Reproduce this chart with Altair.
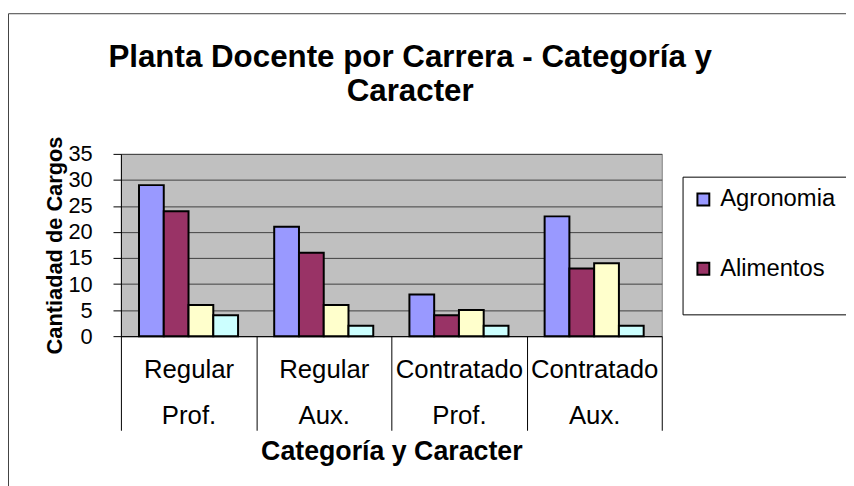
import altair as alt
import pandas as pd

grupos = ["Regular|Prof.", "Regular|Aux.", "Contratado|Prof.", "Contratado|Aux."]
series = ["Agronomia", "Alimentos", "Serie 3", "Serie 4"]
agronomia = [29, 21, 8, 23]
alimentos = [24, 16, 4, 13]
serie3 = [6, 6, 5, 14]
serie4 = [4, 2, 2, 2]
colores = ["#9999FF", "#993366", "#FFFFCC", "#CCFFFF"]
y_ticks = [0, 5, 10, 15, 20, 25, 30, 35]

rows = []
for s, vals in zip(series, [agronomia, alimentos, serie3, serie4]):
    for g, v in zip(grupos, vals):
        rows.append({"grupo": g, "serie": s, "valor": v})
df = pd.DataFrame(rows)

FONT = "Liberation Sans"
W, H = 546, 184

bars = alt.Chart(df).mark_bar(stroke="black", strokeWidth=2).encode(
    x=alt.X(
        "grupo:N",
        sort=grupos,
        scale=alt.Scale(paddingInner=0, paddingOuter=0),
        axis=alt.Axis(
            title="Categoría y Caracter",
            titleFont=FONT,
            titleFontSize=27,
            titleFontWeight="bold",
            titleColor="black",
            titleBaseline="top",
            titleY=104,
            labelExpr="split(datum.label, '|')",
            labelFont=FONT,
            labelFontSize=26,
            labelColor="black",
            labelLineHeight=46,
            labelAngle=0,
            labelPadding=-74,
            labelBaseline="top",
            tickBand="extent",
            tickSize=95,
            tickColor="black",
            tickWidth=1,
            domainColor="black",
            domainWidth=1,
        ),
    ),
    xOffset=alt.XOffset(
        "serie:N",
        sort=series,
        scale=alt.Scale(paddingInner=0, paddingOuter=0.73),
    ),
    y=alt.Y(
        "valor:Q",
        scale=alt.Scale(domain=[0, 35], nice=False),
        axis=alt.Axis(
            values=y_ticks,
            title="Cantiadad de Cargos",
            titleFont=FONT,
            titleFontSize=22,
            titleFontWeight="bold",
            titleColor="black",
            titleAngle=-90,
            titleBaseline="alphabetic",
            titleAlign="center",
            titleX=-60,
            titleY=92,
            labelFont=FONT,
            labelFontSize=22,
            labelColor="black",
            labelPadding=21,
            tickSize=8,
            tickColor="black",
            domainColor="black",
            grid=True,
            gridColor="#404040",
            gridWidth=1,
        ),
    ),
    color=alt.Color(
        "serie:N",
        sort=series,
        scale=alt.Scale(domain=series, range=colores),
        legend=alt.Legend(
            values=["Agronomia", "Alimentos"],
            title=None,
            orient="none",
            legendX=576,
            legendY=34,
            padding=0,
            symbolType="square",
            symbolSize=144,
            symbolStrokeColor="black",
            symbolStrokeWidth=2,
            labelFont=FONT,
            labelFontSize=24,
            labelColor="black",
            labelOffset=5,
            rowPadding=46,
        ),
    ),
)

deco = pd.DataFrame({"k": [0]})

outer = alt.Chart(deco).mark_rect(fill="transparent", stroke="#404040", strokeWidth=1).encode(
    x=alt.value(-113.5), x2=alt.value(800), y=alt.value(-141.5), y2=alt.value(500)
)

legend_box = alt.Chart(deco).mark_rect(fill="white", stroke="black", strokeWidth=1).encode(
    x=alt.value(567.5), x2=alt.value(800), y=alt.value(23.5), y2=alt.value(162.5)
)

chart = alt.layer(outer, legend_box, bars).properties(
    width=W,
    height=H,
    title=alt.TitleParams(
        text=["Planta Docente por Carrera - Categoría y", "Caracter"],
        font=FONT,
        fontSize=31.6,
        fontWeight="bold",
        color="black",
        lineHeight=34,
        anchor="middle",
        frame="group",
        dx=19,
        dy=143,
        offset=48,
    ),
    autosize=alt.AutoSizeParams(type="none"),
    padding={"left": 114, "top": 145, "right": 186, "bottom": 149},
    background="white",
).configure_view(
    fill="#C0C0C0", stroke="#808080", strokeWidth=1
)

chart.save("out.html", embed_options={"renderer": "svg", "actions": False})
